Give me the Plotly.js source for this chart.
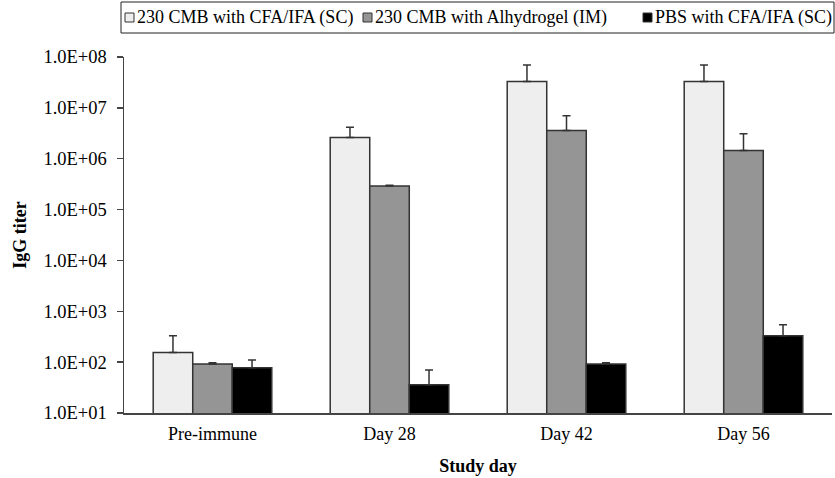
<!DOCTYPE html>
<html>
<head>
<meta charset="utf-8">
<script src="https://cdn.plot.ly/plotly-3.0.1.min.js"></script>
<style>html,body{margin:0;padding:0;background:#fff;}#chart{width:835px;height:478px;}</style>
</head>
<body>
<div id="chart"></div>
<script>
const categories = ["Pre-immune", "Day 28", "Day 42", "Day 56"];
const seriesNames = ["230 CMB with CFA/IFA (SC)", "230 CMB with Alhydrogel (IM)", "PBS with CFA/IFA (SC)"];
const cfaValues = [155, 2.6e6, 3.3e7, 3.3e7];
const cfaErrPlus = [176, 1.55e6, 3.7e7, 3.7e7];
const alhyValues = [92, 2.9e5, 3.6e6, 1.45e6];
const alhyErrPlus = [5, 1.0e4, 3.4e6, 1.65e6];
const pbsValues = [78, 36, 92, 330];
const pbsErrPlus = [32, 34, 5, 216];
const tickValues = [1e1, 1e2, 1e3, 1e4, 1e5, 1e6, 1e7, 1e8];
const tickLabels = ["1.0E+01", "1.0E+02", "1.0E+03", "1.0E+04", "1.0E+05", "1.0E+06", "1.0E+07", "1.0E+08"];

const fills = ["#eeeeee", "#959595", "#000000"];
const font = "Liberation Serif";

function barTrace(name, y, err, fill) {
  return {
    type: "bar", name: name, x: categories, y: y,
    marker: {color: fill, line: {color: "#333333", width: 1.5}},
    error_y: {type: "data", symmetric: false, array: err, arrayminus: err.map(() => 0),
              color: "#333333", thickness: 1.5, width: 4},
    hoverinfo: "x+y+name"
  };
}

const data = [
  barTrace(seriesNames[0], cfaValues, cfaErrPlus, fills[0]),
  barTrace(seriesNames[1], alhyValues, alhyErrPlus, fills[1]),
  barTrace(seriesNames[2], pbsValues, pbsErrPlus, fills[2])
];

// legend (drawn manually, in paper coordinates)
const W = 708, H = 356, L = 124, T = 57;
const px = v => (v - L) / W;
const py = v => (T + H - v) / H;
const legendItems = [
  {sq: 125, text: 135},
  {sq: 363, text: 373},
  {sq: 643, text: 653}
];
const shapes = [
  {type: "rect", xref: "paper", yref: "paper", x0: px(121), x1: px(834), y0: py(33), y1: py(2),
   line: {color: "#222", width: 1}, fillcolor: "rgba(0,0,0,0)"}
];
const annotations = [];
legendItems.forEach((it, i) => {
  shapes.push({type: "rect", xref: "paper", yref: "paper", x0: px(it.sq), x1: px(it.sq + 9),
    y0: py(22), y1: py(13), line: {color: "#333", width: 1}, fillcolor: fills[i]});
  annotations.push({xref: "paper", yref: "paper", x: px(it.text), y: py(17.5), xanchor: "left", yanchor: "middle",
    text: seriesNames[i], showarrow: false, font: {family: font, size: 18, color: "#000"}});
});

const layout = {
  width: 835, height: 478,
  margin: {l: 124, r: 3, t: 57, b: 65},
  paper_bgcolor: "#ffffff", plot_bgcolor: "#ffffff",
  barmode: "group", bargap: 0.33, bargroupgap: 0,
  showlegend: false,
  font: {family: font, size: 18, color: "#000"},
  xaxis: {
    type: "category", showline: true, linecolor: "#444", linewidth: 1.5,
    ticks: "", showgrid: false, zeroline: false,
    tickfont: {family: font, size: 18, color: "#000"},
    ticklabelstandoff: 4,
    title: {text: "<b>Study day</b>", font: {family: font, size: 18, color: "#000"}, standoff: 16}
  },
  yaxis: {
    type: "log", range: [1, 8], showline: true, linecolor: "#444", linewidth: 1.5,
    ticks: "outside", ticklen: 6, tickcolor: "#444", tickwidth: 1.5,
    tickvals: tickValues, ticktext: tickLabels, showgrid: false, zeroline: false,
    tickfont: {family: font, size: 18.5, color: "#000"},
    ticklabelstandoff: 6,
    title: {text: "<b>IgG titer</b>", font: {family: font, size: 18, color: "#000"}, standoff: 12}
  },
  shapes: shapes,
  annotations: annotations
};

Plotly.newPlot("chart", data, layout, {displayModeBar: false, staticPlot: true});
</script>
</body>
</html>
